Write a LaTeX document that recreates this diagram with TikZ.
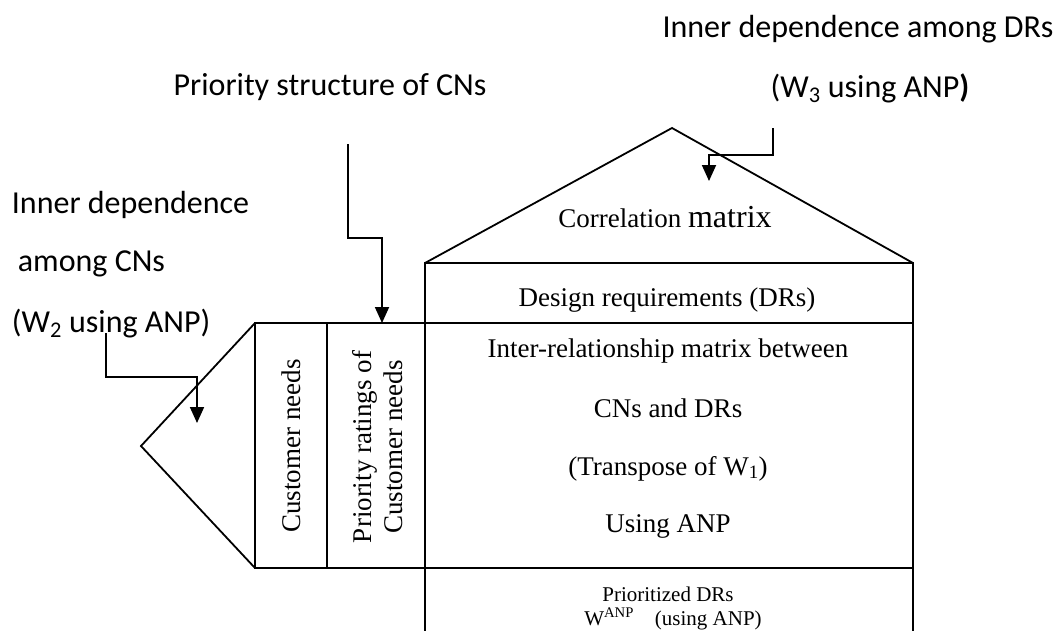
\documentclass[tikz,border=0pt]{standalone}
\usepackage{fontspec}
\setmainfont{Liberation Serif}
\newfontfamily\notefont{Carlito}
\usetikzlibrary{arrows.meta}

\begin{document}
\begin{tikzpicture}[x=1pt,y=-1pt,>={Triangle[width=14pt,length=16pt]},line width=1.8pt,
  note/.style={font=\notefont\fontsize{32}{38}\selectfont,inner sep=0pt,anchor=base},
  cell/.style={font=\fontsize{27}{31}\selectfont,inner sep=0pt,anchor=base}]
  \useasboundingbox (0,0) rectangle (1059,630);
  \clip (0,0) rectangle (1059,630);

  \draw (425,263) -- (672,128) -- (913,263);
  \draw (425,263) rectangle (913,568);
  \draw (425,568) -- (425,640) (913,568) -- (913,640);
  \draw (255,323) -- (913,323);
  \draw (255,323) rectangle (425,568) (327,323) -- (327,568);
  \draw (255,323) -- (141,446) -- (255,568);

  \node[note] (dr note) at (858,37) {Inner dependence among DRs};
  \node[note] (w3 note) at (870,97) {(W\textsubscript{3} using ANP\textbf{)}};
  \node[note] (ps note) at (330,95) {Priority structure of CNs};
  \node[note, anchor=base west] (cn note1) at (11,213) {Inner dependence};
  \node[note, anchor=base west] (cn note2) at (17,271) {among CNs};
  \node[note, anchor=base west] (cn note3) at (11,332) {(W\textsubscript{2} using ANP)};

  \node[cell] (corr) at (665,227) {Correlation {\fontsize{32}{38}\selectfont matrix}};
  \node[cell] (dr) at (667,306) {Design requirements (DRs)};
  \node[cell] (rel1) at (668,357) {Inter-relationship matrix between};
  \node[cell] (rel2) at (668,417) {CNs and DRs};
  \node[cell] (rel3) at (668,475) {(Transpose of W\textsubscript{1})};
  \node[cell] (rel4) at (668,532) {Using ANP};
  \node[cell, font=\fontsize{21}{25}\selectfont] (pdr1) at (668,601) {Prioritized DRs};
  \node[cell, font=\fontsize{21}{25}\selectfont] (pdr2) at (673,625) {W\textsuperscript{ANP}\quad(using ANP)};
  \node[cell, anchor=center, rotate=90] (cn) at (291,446) {Customer needs};
  \node[cell, anchor=center, rotate=90, align=center] (pr) at (378,447) {Priority ratings of\\Customer needs};

  \coordinate (ps top) at (348,144);
  \coordinate (ps end) at (382,323);
  \coordinate (w3 top) at (773,128);
  \coordinate (w3 end) at (709,181);
  \coordinate (w2 top) at (106,333);
  \coordinate (w2 end) at (197,423);

  \draw[->] (ps top) -- ++(0,94) -| (ps end);
  \draw[->] (w3 top) -- ++(0,27) -| (w3 end);
  \draw[->] (w2 top) -- ++(0,44) -| (w2 end);
\end{tikzpicture}
\end{document}
